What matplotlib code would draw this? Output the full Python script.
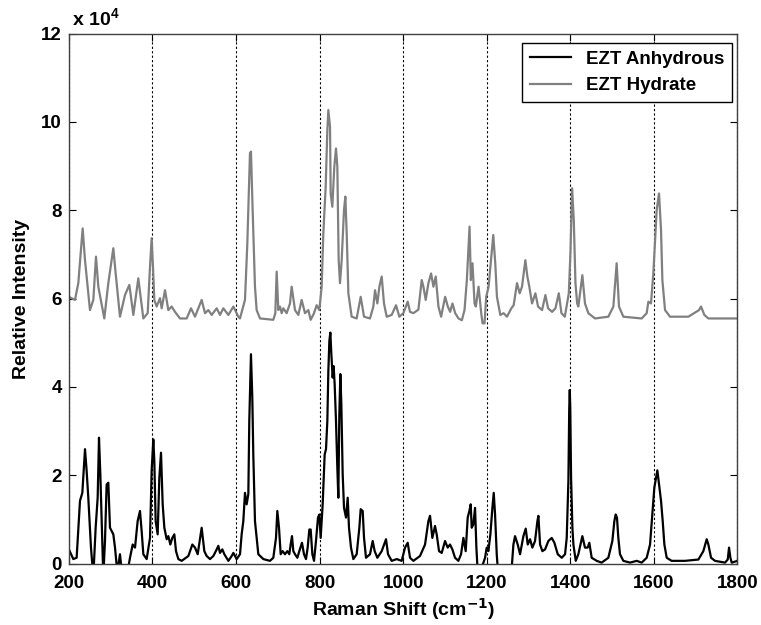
import matplotlib
matplotlib.use('Agg')
import matplotlib.pyplot as plt

plt.rcParams['font.family'] = ['Liberation Sans', 'DejaVu Sans']
plt.rcParams['font.weight'] = 'bold'
plt.rcParams['mathtext.fontset'] = 'custom'
plt.rcParams['mathtext.rm'] = 'Liberation Sans:bold'
plt.rcParams['mathtext.bf'] = 'Liberation Sans:bold'
plt.rcParams['mathtext.default'] = 'bf'

anh_x = [200, 210.6, 218.6, 226.6, 232.2, 238.6, 242.5, 246.5, 252.9, 258.5, 264.1, 268.9, 272.1, 275.3,
         278.5, 282.4, 286.4, 290.4, 294.4, 298.4, 306.4, 310.4, 316, 322.3, 328, 338.3, 346.3, 352.7,
         358.3, 364.6, 370.2, 374.2, 378.2, 386.2, 394.2, 398.1, 402.1, 404.5, 407.7, 412.5, 416.5,
         420.5, 424.5, 428.5, 434.1, 438.1, 442.8, 447.6, 452.4, 456.4, 462, 470, 486, 495.5, 501.9,
         508.3, 517.8, 524.2, 529.8, 537.8, 545.8, 553.8, 557.7, 561.7, 567.3, 572.1, 581.7, 589.7,
         593.7, 601.6, 609.6, 613.5, 617.5, 621.5, 625.5, 629.5, 631.8, 635.8, 639, 641.4, 645.4,
         653.4, 665.4, 681.3, 689.3, 695.7, 698.9, 702.9, 706.9, 711.6, 717.2, 722.8, 727.6, 730.8,
         734, 737.2, 741.2, 746.8, 751.5, 757.9, 762.7, 767.5, 771.5, 775.5, 778.7, 782.7, 786.7,
         791.4, 796.2, 799.4, 802.6, 807.4, 812.2, 815.4, 818.6, 821, 823.4, 825.8, 828.2, 831.3,
         833.7, 836.1, 839.3, 842.5, 844.9, 847.3, 849.7, 852.1, 855.3, 858.5, 863.3, 867.3, 870.4,
         875.2, 880.8, 888.8, 895.2, 898.4, 903.2, 906.4, 911.1, 920.7, 927.1, 931.9, 938.3, 948.7,
         959, 963.8, 972.6, 984.6, 996.5, 1004.5, 1010.9, 1016.5, 1024.5, 1040.4, 1052.4, 1060.4,
         1064.4, 1069.9, 1076.3, 1080.3, 1085.9, 1092.3, 1100.3, 1106.6, 1112.2, 1117.8, 1124.2,
         1132.2, 1138.6, 1144.2, 1149.7, 1154.5, 1158.5, 1161.7, 1164.1, 1168.1, 1172.1, 1175.3,
         1178.5, 1188, 1196, 1200, 1204, 1208.8, 1213.6, 1216.8, 1220, 1224, 1227.9, 1258.3, 1263.9,
         1267.8, 1274.2, 1279.8, 1287.8, 1293.4, 1298.2, 1303.8, 1309.3, 1315.7, 1321.3, 1323.7,
         1327.7, 1333.3, 1339.7, 1347.6, 1355.6, 1362, 1370, 1379.6, 1387.5, 1391.5, 1395.5, 1397.5,
         1398.8, 1400, 1401.9, 1405.1, 1407.5, 1413.1, 1419.3, 1428.9, 1435.2, 1441.6, 1445.6, 1451.2,
         1463.2, 1475.1, 1491.1, 1500.7, 1505.5, 1508.7, 1511.8, 1515, 1519, 1527, 1543, 1558.9,
         1570.9, 1582.9, 1590.9, 1596.4, 1601.2, 1605.2, 1608.4, 1612.4, 1617.2, 1621.2, 1625.2,
         1630.8, 1642.7, 1674.6, 1706.6, 1718.5, 1726.5, 1730.5, 1736.9, 1746.5, 1770.4, 1776.8,
         1780, 1783.2, 1786.4, 1800]
anh_y = [0.32, 0.10, 0.13, 1.42, 1.60, 2.59, 2.10, 1.49, 0.36, -0.3, 0.81, 1.49, 2.85, 2.02,
         0.96, -0.3, 0.51, 1.79, 1.83, 0.81, 0.66, 0.36, -0.2, 0.21, -0.3, -0.3, 0.13, 0.43,
         0.36, 0.96, 1.19, 0.73, 0.21, 0.10, 0.58, 2.10, 2.81, 2.32, 0.96, 0.66, 1.94,
         2.51, 1.34, 0.81, 0.55, 0.62, 0.43, 0.58, 0.66, 0.28, 0.10, 0.06, 0.17, 0.43, 0.36,
         0.21, 0.81, 0.28, 0.17, 0.10, 0.17, 0.32, 0.40, 0.24, 0.32, 0.21, 0.06, 0.17,
         0.24, 0.10, 0.21, 0.66, 0.96, 1.60, 1.34, 1.57, 3.23, 4.74, 3.76, 2.47, 0.96,
         0.21, 0.10, 0.06, 0.13, 0.58, 1.19, 0.81, 0.21, 0.28, 0.21, 0.28, 0.21, 0.43,
         0.62, 0.28, 0.21, 0.13, 0.28, 0.47, 0.21, 0.10, 0.36, 0.77, 0.77, 0.21, 0.06,
         0.51, 1.04, 1.11, 0.58, 1.34, 2.47, 2.59, 3.23, 4.36, 5.04, 5.23, 4.74, 4.21,
         4.47, 4.06, 3.23, 2.17, 1.49, 3.38, 4.29, 3.61, 2.02, 1.26, 1.04, 1.49, 0.81,
         0.36, 0.10, 0.21, 0.81, 1.23, 1.19, 0.58, 0.13, 0.21, 0.51, 0.28, 0.13, 0.28,
         0.55, 0.21, 0.06, 0.10, 0.06, 0.36, 0.47, 0.13, 0.06, 0.17, 0.43, 0.96,
         1.08, 0.58, 0.85, 0.66, 0.28, 0.24, 0.51, 0.36, 0.43, 0.32, 0.13,
         0.06, 0.21, 0.58, 0.28, 1.04, 1.19, 1.34, 0.81, 0.89, 1.26, 0.36,
         -0.2, -0.1, 0.13, 0.36, 0.28, 0.66, 1.26, 1.60, 1.11, 0.21, -0.3, -0.3, 0.43,
         0.62, 0.43, 0.21, 0.62, 0.79, 0.43, 0.55, 0.36, 0.51, 0.96, 1.08,
         0.43, 0.28, 0.32, 0.51, 0.58, 0.47, 0.21, 0.13, 0.21, 0.58, 1.87, 3.5,
         3.93, 3.5, 1.95, 0.8, 0.43, 0.06, 0.21, 0.62, 0.36, 0.36, 0.47, 0.13,
         0.06, 0.02, 0.13, 0.51, 0.96, 1.11, 1.04, 0.58, 0.21, 0.06, 0.02, 0.06,
         0.02, 0.13, 0.43, 1.11, 1.72, 1.94, 2.11, 1.79, 1.42, 0.96, 0.43,
         0.13, 0.06, 0.06, 0.09, 0.28, 0.55, 0.43, 0.13, 0.06, 0.02, 0.09,
         0.36, 0.13, 0.02, 0.06]

hyd_x = [200, 214.6, 222.6, 233, 238.6, 250.5, 258.5, 264.9, 270.5, 284.8, 294.4, 306.4, 312, 322.3,
         334.3, 344.7, 354.3, 366.2, 378.2, 388.6, 394.2, 398.1, 401.3, 404.5, 410.1, 418.1, 422.1,
         430.1, 438, 446, 454, 466, 482, 492.3, 501.9, 517.8, 525.8, 533.8, 541.8, 553.8, 561.7,
         569.7, 581.7, 593.7, 605.6, 609.5, 621.5, 627.1, 633.4, 635.8, 639.8, 645.4, 649.4, 657.4,
         689.3, 694.1, 697.3, 701.3, 705.3, 709.3, 713.2, 721.2, 729.2, 733.2, 741.2, 749.2, 757.1,
         765.1, 773.1, 778.7, 786.7, 793, 799.4, 805, 809, 814.6, 818.6, 821, 825, 826.6, 830.5,
         835.3, 839.3, 842.5, 845.7, 848.9, 852.9, 858.5, 861.7, 864.9, 868.9, 876.8, 888.8, 898.4,
         906.4, 920.7, 928.7, 932.7, 938.3, 943.1, 948.7, 954.2, 960.6, 972.6, 983, 990.9, 1000.5,
         1010.9, 1016.5, 1024.5, 1036.5, 1044.5, 1048.5, 1054, 1060.5, 1066.9, 1072.5, 1078, 1084.5,
         1090.9, 1100.5, 1106.9, 1112.5, 1118, 1124.5, 1132.5, 1140.5, 1146.9, 1152.5, 1158.9, 1162,
         1166, 1170.9, 1174, 1180.5, 1186.9, 1190, 1194.8, 1198.8, 1204.5, 1210.9, 1215.7, 1220.5,
         1224.5, 1232.5, 1240.5, 1248.5, 1258.9, 1264.5, 1272.5, 1278.9, 1284.5, 1292.5, 1297.3, 1302,
         1308.5, 1316.5, 1322.9, 1332.5, 1340.5, 1346.9, 1356.5, 1364.5, 1372.5, 1378.9, 1386.9,
         1396.5, 1400.5, 1404.4, 1408.4, 1412.4, 1416.5, 1419.3, 1428.9, 1435.2, 1443.2, 1459.2,
         1491.1, 1503.1, 1511, 1516.6, 1527, 1570.9, 1582.9, 1586.9, 1593.2, 1598.8, 1606.8, 1612.4,
         1617.2, 1620.4, 1626.8, 1638.7, 1682.6, 1708.2, 1712.9, 1720.9, 1730.5, 1800]
hyd_y = [6.04, 5.97, 6.35, 7.59, 6.87, 5.74, 5.97, 6.95, 6.27, 5.55, 6.35, 7.14, 6.57, 5.59,
         6.08, 6.31, 5.63, 6.46, 5.55, 5.67, 6.72, 7.37, 6.72, 5.97, 5.82, 6.01, 5.78,
         6.19, 5.74, 5.82, 5.70, 5.55, 5.55, 5.78, 5.59, 5.97, 5.67, 5.74, 5.63, 5.78, 5.63,
         5.78, 5.63, 5.82, 5.59, 5.55, 5.97, 7.25, 9.29, 9.33, 8.01, 6.27, 5.74, 5.55,
         5.52, 5.67, 6.61, 5.74, 5.82, 5.67, 5.78, 5.67, 5.89, 6.27, 5.74, 5.63, 5.97,
         5.67, 5.74, 5.52, 5.67, 5.85, 5.74, 6.27, 7.48, 8.53, 9.82, 10.27, 9.89, 8.38, 8.08,
         8.99, 9.40, 8.99, 6.87, 6.35, 6.87, 8.01, 8.31, 7.48, 6.12, 5.59, 5.55, 6.04,
         5.59, 5.55, 5.82, 6.19, 5.89, 6.27, 6.50, 5.89, 5.59, 5.63, 5.85, 5.59, 5.67,
         5.93, 5.70, 5.67, 5.75, 6.42, 6.27, 5.97, 6.35, 6.57, 6.27, 6.50, 5.82,
         5.59, 6.04, 5.82, 5.70, 5.89, 5.67, 5.55, 5.51, 5.74, 6.42, 7.63, 6.42,
         6.80, 5.89, 5.82, 6.27, 5.67, 5.44, 5.44, 6.04, 6.27, 6.95, 7.44, 6.80,
         6.04, 5.63, 5.67, 5.59, 5.78, 5.85, 6.35, 6.12, 6.27, 6.87, 6.50, 6.27,
         5.89, 6.12, 5.82, 5.74, 6.08, 5.78, 5.70, 5.78, 6.12, 5.67, 5.59,
         6.12, 7.06, 8.50, 7.78, 6.35, 5.89, 5.82, 6.53, 5.89, 5.67, 5.55,
         5.59, 5.82, 6.80, 5.82, 5.59, 5.55, 5.67, 5.93, 5.89, 6.57, 8.01, 8.38,
         7.55, 6.42, 5.74, 5.59, 5.59, 5.74, 5.82, 5.63, 5.55, 5.55]

etiquetas = ['EZT Anhydrous', 'EZT Hydrate']
xticks = list(range(200, 1801, 200))
yticks = list(range(0, 13, 2))

fig = plt.figure(figsize=(7.61, 6.25), dpi=100)
ax = fig.add_axes([0.0905, 0.0984, 0.8785, 0.8477])

ax.plot(anh_x, anh_y, color='black', lw=1.6, label=etiquetas[0])
ax.plot(hyd_x, hyd_y, color='#808080', lw=1.6, label=etiquetas[1])

ax.set_xlim(200, 1800)
ax.set_ylim(0, 12)
ax.set_xticks(xticks)
ax.set_yticks(yticks)
ax.xaxis.grid(True, linestyle=(0, (2, 2)), color='black', lw=0.8)
ax.tick_params(direction='in', top=True, right=True, length=5, labelsize=13.5, width=0.8)
ax.tick_params(axis='x', pad=8)
ax.tick_params(axis='y', pad=5)
for lab in ax.get_xticklabels() + ax.get_yticklabels():
    lab.set_fontweight('bold')
for s in ax.spines.values():
    s.set_color('#404040')
    s.set_linewidth(1.0)

ax.set_xlabel('Raman Shift (cm$^{\\mathsf{-1}}$)', fontsize=14, fontweight='bold', labelpad=4)
ax.set_ylabel('Relative Intensity', fontsize=14, fontweight='bold', labelpad=8)
ax.text(0.005, 1.008, r'x 10$^4$', transform=ax.transAxes, fontsize=14, fontweight='bold',
        ha='left', va='bottom')

leg = ax.legend(loc='upper right', bbox_to_anchor=(0.9915, 0.982), borderaxespad=0,
                fancybox=False, framealpha=1, edgecolor='black',
                handlelength=2.2, prop={'weight': 'bold', 'size': 13.5})
leg.get_frame().set_linewidth(1.0)

fig.savefig('out.png', dpi=100)
